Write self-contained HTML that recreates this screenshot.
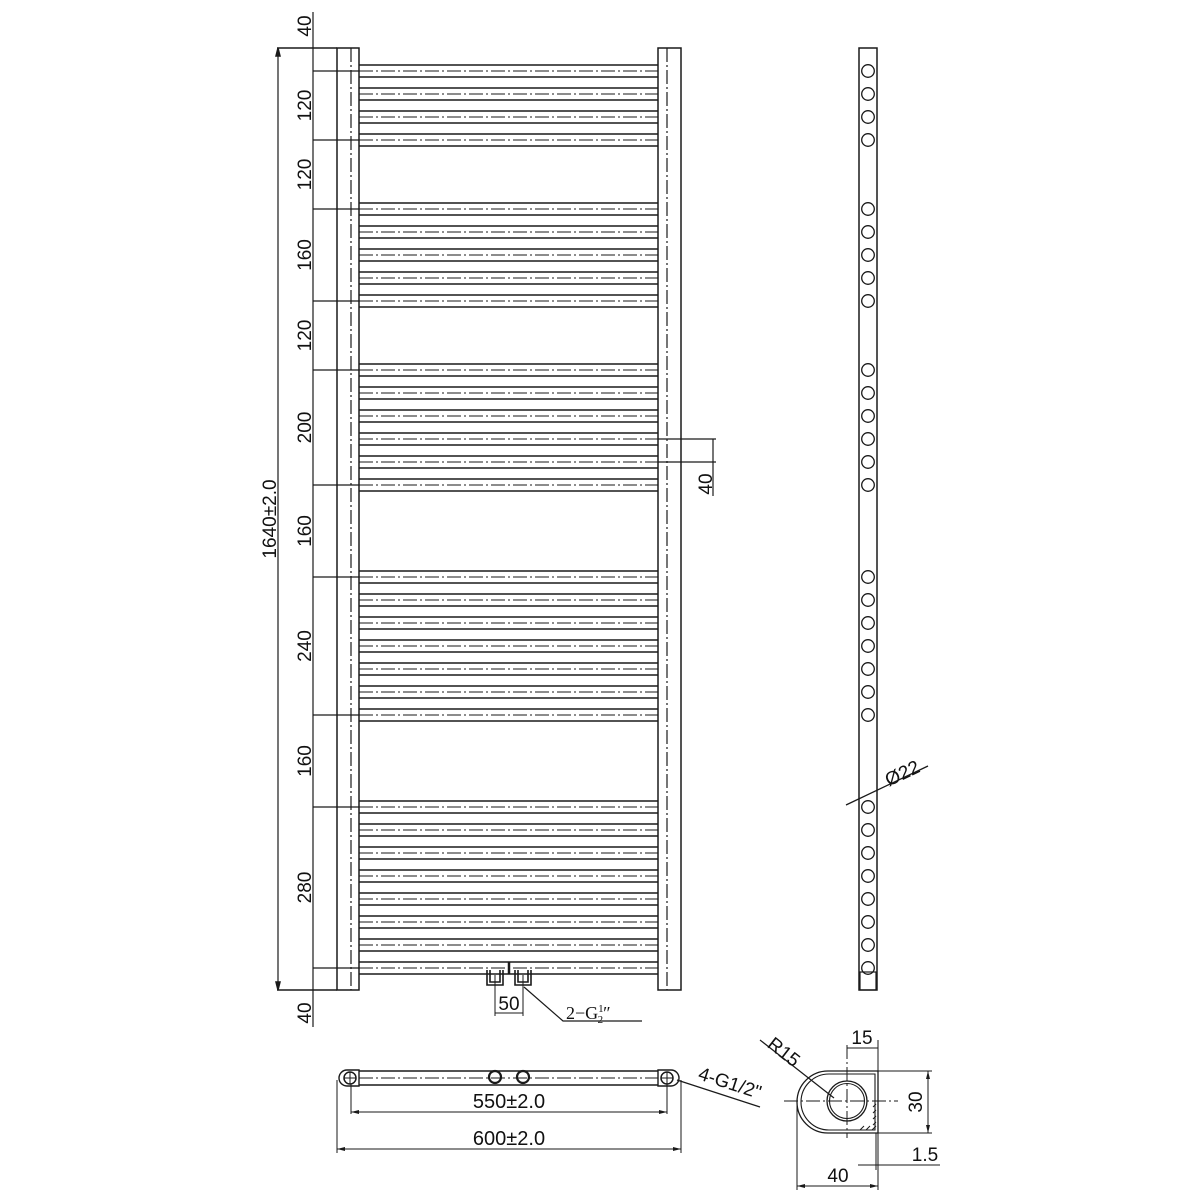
<!DOCTYPE html>
<html><head><meta charset="utf-8"><style>
html,body{margin:0;padding:0;background:#fff}
svg{display:block}
text{font-family:"Liberation Sans",sans-serif;fill:#111}
</style></head><body>
<svg id="s" width="1200" height="1200" viewBox="0 0 1200 1200" xmlns="http://www.w3.org/2000/svg" fill="none" stroke="#1a1a1a" stroke-width="1.5">
<g id="g"></g>
<!-- columns -->
<rect x="337" y="48" width="22" height="942"/>
<line x1="351" y1="48" x2="351" y2="990" stroke-dasharray="14,3,2,3" stroke-width="1.2"/>
<rect x="658" y="48" width="23" height="942"/>
<line x1="667" y1="48" x2="667" y2="990" stroke-dasharray="14,3,2,3" stroke-width="1.2"/>
<!-- left dims -->
<line x1="277" y1="48" x2="337" y2="48"/>
<line x1="277" y1="990" x2="337" y2="990"/>
<line x1="278" y1="48" x2="278" y2="990" stroke-width="1.2"/>
<path d="M278 48 l-2 8 h4z M278 990 l-2 -8 h4z" fill="#1a1a1a"/>
<text x="276" y="519" font-size="19" transform="rotate(-90 276 519)" text-anchor="middle" stroke="none">1640±2.0</text>
<line x1="313" y1="12" x2="313" y2="1027" stroke-width="1.2"/>
<g id="dims"></g>
<!-- right 40 dim -->
<line x1="658" y1="439" x2="716" y2="439" stroke-width="1.2"/>
<line x1="658" y1="462" x2="716" y2="462" stroke-width="1.2"/>
<line x1="713" y1="439" x2="713" y2="496" stroke-width="1.2"/>
<text x="712" y="484" font-size="19" transform="rotate(-90 712 484)" text-anchor="middle" stroke="none">40</text>
<!-- side view -->
<rect x="859" y="48" width="18" height="942"/>
<rect x="860" y="972" width="16" height="18" stroke-width="1.2"/>
<line x1="846" y1="805" x2="928" y2="766" stroke-width="1.3"/>
<text x="905" y="779" font-size="19" transform="rotate(-25 905 779)" text-anchor="middle" stroke="none">Ø22</text>
<!-- bottom connectors -->
<path d="M487 970 v15 h16 v-15 M490 970 v12 h10 v-12" stroke-width="1.6"/>
<path d="M515 970 v15 h16 v-15 M518 970 v12 h10 v-12" stroke-width="1.6"/>
<line x1="509" y1="962" x2="509" y2="974" stroke-width="2.5"/>
<line x1="495" y1="975" x2="495" y2="1016" stroke-width="1"/>
<line x1="523" y1="975" x2="523" y2="1016" stroke-width="1"/>
<line x1="495" y1="1013" x2="523" y2="1013" stroke-width="1"/>
<text x="509" y="1010" font-size="19" text-anchor="middle" stroke="none">50</text>
<polyline points="524,987 563,1021 642,1021" stroke-width="1.2"/>
<text x="566" y="1019" font-size="18" stroke="none" style="font-family:'Liberation Serif',serif">2−G<tspan font-size="11" dy="-7">1</tspan><tspan font-size="11" dx="-6" dy="11">2</tspan><tspan dy="-4">″</tspan></text>
<!-- top view -->
<path d="M359 1071 H658 M359 1085 H658" stroke-width="1.4"/>
<path d="M359 1070 V1086 H347 A8 8 0 0 1 347 1070Z" stroke-width="1.4"/>
<path d="M658 1070 V1086 H671 A8 8 0 0 0 671 1070Z" stroke-width="1.4"/>
<line x1="359" y1="1078" x2="658" y2="1078" stroke-dasharray="14,3,2,3" stroke-width="1"/>
<circle cx="350" cy="1078" r="6"/><line x1="344" y1="1078" x2="356" y2="1078" stroke-width="1"/><line x1="350" y1="1072" x2="350" y2="1084" stroke-width="1"/>
<circle cx="667" cy="1078" r="6"/><line x1="661" y1="1078" x2="673" y2="1078" stroke-width="1"/><line x1="667" y1="1072" x2="667" y2="1084" stroke-width="1"/>
<circle cx="495" cy="1077" r="6" stroke-width="2.2"/><circle cx="523" cy="1077" r="6" stroke-width="2.2"/>
<line x1="351" y1="1084" x2="351" y2="1114" stroke-width="1"/>
<line x1="667" y1="1084" x2="667" y2="1114" stroke-width="1"/>
<line x1="351" y1="1112" x2="667" y2="1112" stroke-width="1"/>
<path d="M351 1112 l8 -2 v4z M667 1112 l-8 -2 v4z" fill="#1a1a1a" stroke="none"/>
<text x="509" y="1108" font-size="20" text-anchor="middle" stroke="none">550±2.0</text>
<line x1="337" y1="1080" x2="337" y2="1153" stroke-width="1"/>
<line x1="681" y1="1080" x2="681" y2="1153" stroke-width="1"/>
<line x1="337" y1="1149" x2="681" y2="1149" stroke-width="1"/>
<path d="M337 1149 l8 -2 v4z M681 1149 l-8 -2 v4z" fill="#1a1a1a" stroke="none"/>
<text x="509" y="1145" font-size="20" text-anchor="middle" stroke="none">600±2.0</text>
<line x1="677" y1="1080" x2="760" y2="1107" stroke-width="1.2"/>
<text x="728" y="1089" font-size="19" transform="rotate(18 728 1089)" text-anchor="middle" stroke="none">4-G1/2"</text>
<!-- cross section -->
<path d="M828 1071 H878 V1133 H828 A31 31 0 0 1 828 1071Z" stroke-width="1.3"/>
<path d="M829 1074 H875 V1130 H829 A28 28 0 0 1 829 1074Z" stroke-width="1.1"/>
<circle cx="847" cy="1101" r="20" stroke-width="1.3"/>
<circle cx="847" cy="1101" r="17.5" stroke-width="1.1"/>
<line x1="784" y1="1101" x2="898" y2="1101" stroke-dasharray="14,3,2,3" stroke-width="1"/>
<line x1="847" y1="1045" x2="847" y2="1138" stroke-dasharray="14,3,2,3" stroke-width="1"/>
<path d="M860 1130 l4 -4 M866 1130 l4 -4 M872 1130 l4 -4 M873 1125 l3 -3 M873 1119 l3 -3 M873 1113 l3 -3 M873 1107 l3 -3" stroke-width="1"/>
<line x1="878" y1="1040" x2="878" y2="1190" stroke-width="1"/>
<line x1="847" y1="1048" x2="878" y2="1048" stroke-width="1"/>
<text x="862" y="1044" font-size="19" text-anchor="middle" stroke="none">15</text>
<line x1="878" y1="1071" x2="932" y2="1071" stroke-width="1"/>
<line x1="878" y1="1133" x2="932" y2="1133" stroke-width="1"/>
<line x1="928" y1="1071" x2="928" y2="1133" stroke-width="1"/>
<path d="M928 1071 l-2 8 h4z M928 1133 l-2 -8 h4z" fill="#1a1a1a" stroke="none"/>
<text x="922" y="1102" font-size="19" transform="rotate(-90 922 1102)" text-anchor="middle" stroke="none">30</text>
<line x1="797" y1="1101" x2="797" y2="1190" stroke-width="1"/>
<line x1="797" y1="1186" x2="878" y2="1186" stroke-width="1"/>
<path d="M797 1186 l8 -2 v4z M878 1186 l-8 -2 v4z" fill="#1a1a1a" stroke="none"/>
<text x="838" y="1182" font-size="19" text-anchor="middle" stroke="none">40</text>
<line x1="858" y1="1165" x2="940" y2="1165" stroke-width="1"/>
<line x1="876" y1="1133" x2="876" y2="1170" stroke-width="1"/>
<text x="925" y="1161" font-size="19" text-anchor="middle" stroke="none">1.5</text>
<line x1="760" y1="1040" x2="834" y2="1098" stroke-width="1.2"/>
<text x="780" y="1057" font-size="19" transform="rotate(38 780 1057)" text-anchor="middle" stroke="none">R15</text>
</svg>
<script>
var NS="http://www.w3.org/2000/svg",g=document.getElementById("g"),d=document.getElementById("dims");
function el(p,t,a){var e=document.createElementNS(NS,t);for(var k in a)e.setAttribute(k,a[k]);p.appendChild(e);return e;}
var groups=[[71,4],[209,5],[370,6],[577,7],[807,8]];
groups.forEach(function(gr){for(var i=0;i<gr[1];i++){var y=gr[0]+i*23;
el(g,"line",{x1:359,y1:y-6,x2:658,y2:y-6});
el(g,"line",{x1:359,y1:y+6,x2:658,y2:y+6});
el(g,"line",{x1:359,y1:y,x2:658,y2:y,"stroke-dasharray":"14,3,2,3","stroke-width":1.1});
el(g,"circle",{cx:868,cy:y,r:6.3,"stroke-width":1.3});}});
var ticks=[48,71,140,209,301,370,485,577,715,807,968,990];
var labs=["40","120","120","160","120","200","160","240","160","280","40"];
ticks.forEach(function(y,i){if(i>0&&i<ticks.length-1)el(d,"line",{x1:313,y1:y,x2:359,y2:y,"stroke-width":1.2});});
for(var i=0;i<labs.length;i++){var y=(ticks[i]+ticks[i+1])/2,x=311;
if(i==0)y=26;if(i==labs.length-1)y=1013;
var t=el(d,"text",{x:x,y:y,"font-size":19,"text-anchor":"middle",stroke:"none",transform:"rotate(-90 "+x+" "+y+")"});t.textContent=labs[i];}
</script>
</body></html>
